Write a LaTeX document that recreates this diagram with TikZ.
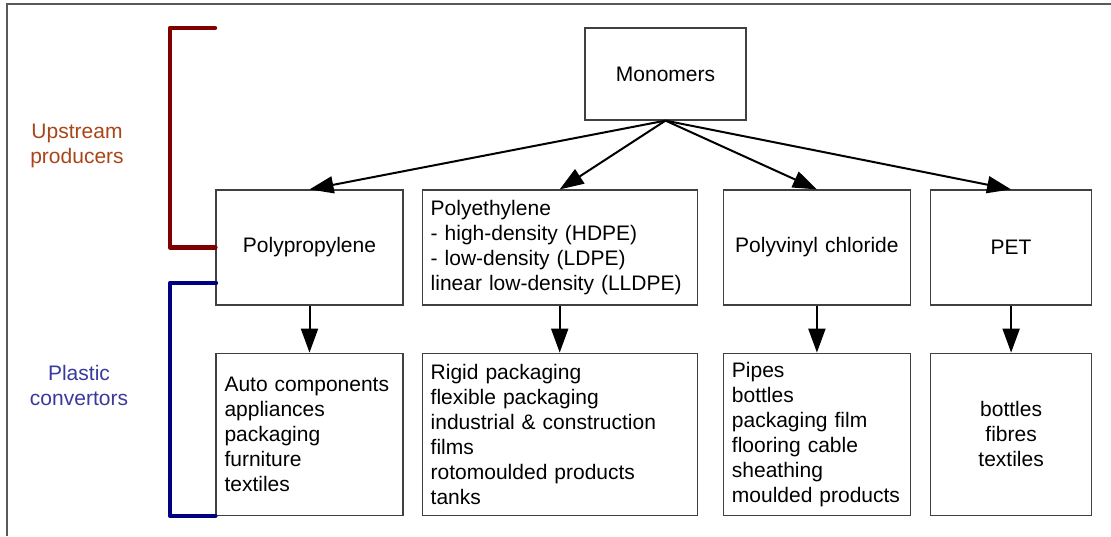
\documentclass[tikz,border=0pt]{standalone}
\usepackage{fontspec}
\setmainfont{Liberation Sans}
\usetikzlibrary{arrows.meta, positioning}
\definecolor{upred}{HTML}{800000}
\definecolor{uptext}{HTML}{A8461A}
\definecolor{convblue}{HTML}{000080}
\definecolor{convtext}{HTML}{3A3A9E}

\begin{document}
\begin{tikzpicture}[
    font=\fontsize{10.5}{12.5}\selectfont,
    node distance=23.5pt and 9pt,
    box/.style={draw=black!75, line width=0.6pt, inner xsep=4.25pt, minimum height=57.5pt},
    sub/.style={box, minimum height=81pt},
    side/.style={align=center},
    bracket/.style={line width=2.2pt, line cap=round, line join=round}
]
\useasboundingbox (0,0) rectangle (555.5pt,-268pt);
\draw[black!65, line width=0.6pt] (3.5pt,-268pt) -- (3.5pt,-2pt) -- (555.5pt,-2pt);

\node[box, minimum width=80.5pt, minimum height=46pt] (mono) at (332.75pt,-37pt) {Monomers};

\node[box, text width=85pt, align=center] (pp) at (154.75pt,-123.75pt) {Polypropylene};
\node[box, text width=129pt, align=left, right=of pp] (pe) {Polyethylene\\- high-density (HDPE)\\- low-density (LDPE)\\linear low-density (LLDPE)};
\node[box, text width=85pt, align=center, right=12.5pt of pe] (pvc) {Polyvinyl chloride};
\node[box, text width=72pt, align=center, right=9.5pt of pvc] (pet) {PET};

\node[sub, text width=85pt, align=left, below=of pp] (pp3) {Auto components\\appliances\\packaging\\furniture\\textiles};
\node[sub, text width=129pt, align=left, below=of pe] (pe3) {Rigid packaging\\flexible packaging\\industrial \& construction\\films\\rotomoulded products\\tanks};
\node[sub, text width=85pt, align=left, below=of pvc] (pvc3) {Pipes\\bottles\\packaging film\\flooring cable\\sheathing\\moulded products};
\node[sub, text width=72pt, align=center, below=of pet] (pet3) {bottles\\fibres\\textiles};

\draw[-{Triangle[length=12pt,width=8.5pt]}, line width=1pt] (mono.south) -- (pp.north);
\draw[-{Triangle[length=12pt,width=8.5pt]}, line width=1pt] (mono.south) -- (pe.north);
\draw[-{Triangle[length=12pt,width=8.5pt]}, line width=1pt] (mono.south) -- (pvc.north);
\draw[-{Triangle[length=12pt,width=8.5pt]}, line width=1pt] (mono.south) -- (pet.north);
\draw[-{Triangle[length=12pt,width=8.5pt]}, line width=1pt] (pp) -- (pp3);
\draw[-{Triangle[length=12pt,width=8.5pt]}, line width=1pt] (pe) -- (pe3);
\draw[-{Triangle[length=12pt,width=8.5pt]}, line width=1pt] (pvc) -- (pvc3);
\draw[-{Triangle[length=12pt,width=8.5pt]}, line width=1pt] (pet) -- (pet3);

\node[side, text=uptext] (up) at (38.5pt,-73pt) {Upstream\\producers};
\node[side, text=convtext] (conv) at (39.5pt,-192.5pt) {Plastic\\convertors};

\coordinate (uptop) at (107.5pt,-14pt);
\draw[bracket, upred] (uptop) -- ++(-22.5pt,0) |- (pp.west);
\coordinate (convtop) at (108pt,-141.5pt);
\draw[bracket, convblue] (convtop) -- ++(-23pt,0) |- (pp3.south west);
\end{tikzpicture}
\end{document}
